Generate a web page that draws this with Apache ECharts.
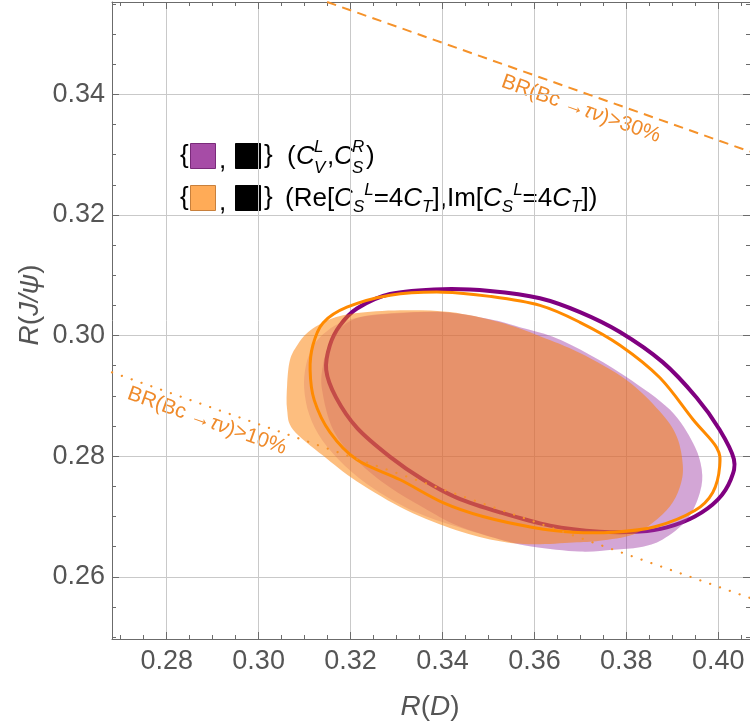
<!DOCTYPE html>
<html>
<head>
<meta charset="utf-8">
<script src="https://cdn.jsdelivr.net/npm/echarts@6/dist/echarts.min.js"></script>
<style>
  html, body { margin: 0; padding: 0; background: #fff; }
  #chart { width: 750px; height: 725px; }
</style>
</head>
<body>
<div id="chart"></div>
<script>
// axis ranges and ticks
var X_MIN = 0.2681, X_MAX = 0.4069;
var Y_MIN = 0.2497, Y_MAX = 0.3553;
var xTicks = [0.28, 0.30, 0.32, 0.34, 0.36, 0.38, 0.40];
var yTicks = [0.26, 0.28, 0.30, 0.32, 0.34];
var xMinorTicks = [0.270, 0.275, 0.285, 0.290, 0.295, 0.305, 0.310, 0.315, 0.325, 0.330, 0.335,
    0.345, 0.350, 0.355, 0.365, 0.370, 0.375, 0.385, 0.390, 0.395, 0.405];
var yMinorTicks = [0.250, 0.255, 0.265, 0.270, 0.275, 0.285, 0.290, 0.295, 0.305, 0.310, 0.315,
    0.325, 0.330, 0.335, 0.345, 0.350, 0.355];

// purple region (C_V^L, C_S^R), faint outer part
var purpleOuter = [
    [0.3099, 0.2913], [0.3103, 0.2951], [0.3118, 0.2981], [0.3140, 0.3002], [0.3177, 0.3021],
    [0.3232, 0.3032], [0.3308, 0.3037], [0.3401, 0.3039], [0.3503, 0.3027], [0.3568, 0.3014],
    [0.3640, 0.2998], [0.3721, 0.2968], [0.3801, 0.2931], [0.3895, 0.2877], [0.3945, 0.2822],
    [0.3964, 0.2778], [0.3960, 0.2740], [0.3932, 0.2695], [0.3879, 0.2662], [0.3829, 0.2649],
    [0.3771, 0.2645], [0.3699, 0.2642], [0.3597, 0.2650], [0.3525, 0.2662], [0.3432, 0.2683],
    [0.3340, 0.2708], [0.3253, 0.2745], [0.3188, 0.2784], [0.3138, 0.2827], [0.3110, 0.2869]
];
// purple region, dense inner part
var purpleInner = [
    [0.3138, 0.2910], [0.3140, 0.2951], [0.3155, 0.2988], [0.3173, 0.3009], [0.3214, 0.3029],
    [0.3286, 0.3037], [0.3401, 0.3039], [0.3503, 0.3027], [0.3568, 0.3014], [0.3640, 0.2998],
    [0.3721, 0.2968], [0.3801, 0.2931], [0.3895, 0.2877], [0.3945, 0.2822], [0.3964, 0.2778],
    [0.3960, 0.2740], [0.3932, 0.2695], [0.3879, 0.2662], [0.3829, 0.2649], [0.3771, 0.2645],
    [0.3699, 0.2642], [0.3597, 0.2650], [0.3525, 0.2662], [0.3432, 0.2685], [0.3358, 0.2715],
    [0.3286, 0.2748], [0.3214, 0.2793], [0.3162, 0.2844]
];
// orange region (Re, Im of C_S^L = 4 C_T)
var orangeFill = [
    [0.3062, 0.2918], [0.3068, 0.2959], [0.3084, 0.2984], [0.3108, 0.3006], [0.3155, 0.3027],
    [0.3210, 0.3037], [0.3308, 0.3042], [0.3416, 0.3039], [0.3525, 0.3022], [0.3612, 0.2999],
    [0.3699, 0.2971], [0.3801, 0.2926], [0.3873, 0.2874], [0.3910, 0.2832], [0.3923, 0.2783],
    [0.3916, 0.2748], [0.3895, 0.2717], [0.3858, 0.2690], [0.3814, 0.2670], [0.3742, 0.2660],
    [0.3684, 0.2657], [0.3597, 0.2654], [0.3525, 0.2659], [0.3432, 0.2677], [0.3323, 0.2710],
    [0.3214, 0.2758], [0.3140, 0.2801], [0.3075, 0.2844], [0.3062, 0.2877]
];
// ellipse rings
var purpleRing = [
    [0.3147, 0.2943], [0.3155, 0.2984], [0.3177, 0.3017], [0.3214, 0.3045], [0.3286, 0.3069],
    [0.3401, 0.3077], [0.3503, 0.3074], [0.3612, 0.3062], [0.3699, 0.3039], [0.3786, 0.3006],
    [0.3879, 0.2956], [0.3953, 0.2897], [0.4003, 0.2844], [0.4034, 0.2795], [0.4027, 0.2761],
    [0.3999, 0.2728], [0.3949, 0.2700], [0.3888, 0.2682], [0.3829, 0.2675], [0.3742, 0.2675],
    [0.3634, 0.2685], [0.3525, 0.2707], [0.3432, 0.2731], [0.3358, 0.2761], [0.3286, 0.2799],
    [0.3214, 0.2847], [0.3168, 0.2898]
];
var orangeRing = [
    [0.3112, 0.2943], [0.3118, 0.2984], [0.3140, 0.3021], [0.3192, 0.3047], [0.3286, 0.3067],
    [0.3401, 0.3072], [0.3503, 0.3065], [0.3612, 0.3050], [0.3699, 0.3022], [0.3786, 0.2984],
    [0.3873, 0.2930], [0.3945, 0.2861], [0.3996, 0.2815], [0.4003, 0.2783], [0.3988, 0.2740],
    [0.3949, 0.2710], [0.3862, 0.2683], [0.3771, 0.2674], [0.3684, 0.2674],
    [0.3597, 0.2682], [0.3488, 0.2700], [0.3401, 0.2723], [0.3308, 0.2761], [0.3214, 0.2794],
    [0.3155, 0.2840], [0.3121, 0.2893]
];
// BR(Bc -> tau nu) limits
var br30Line = [[0.3149, 0.3553], [0.4069, 0.3305]];
var br10Line = [[0.2681, 0.2939], [0.4069, 0.2565]];

var FONT = '"Liberation Sans", Arial, sans-serif';
var GRAY = '#555555';
var FRAME = '#6b6b6b';
var LINE_ORANGE = '#f5922a';
var LABEL_ORANGE = '#ef8a2a';

// closed smooth outline through the given pixel points (Catmull-Rom as cubic Beziers)
function closedCurve(p) {
    var n = p.length, d = 'M' + p[0][0] + ' ' + p[0][1];
    for (var i = 0; i < n; i++) {
        var p0 = p[(i - 1 + n) % n], p1 = p[i], p2 = p[(i + 1) % n], p3 = p[(i + 2) % n];
        var c1x = p1[0] + (p2[0] - p0[0]) / 6, c1y = p1[1] + (p2[1] - p0[1]) / 6;
        var c2x = p2[0] - (p3[0] - p1[0]) / 6, c2y = p2[1] - (p3[1] - p1[1]) / 6;
        d += 'C' + c1x + ' ' + c1y + ' ' + c2x + ' ' + c2y + ' ' + p2[0] + ' ' + p2[1];
    }
    return d + 'Z';
}

function regionSeries(name, pts, fill, stroke, width) {
    return {
        type: 'custom',
        name: name,
        coordinateSystem: 'cartesian2d',
        silent: true,
        data: pts,
        renderItem: function (params, api) {
            if (params.dataIndex !== 0) return null;
            var points = pts.map(function (p) { return api.coord(p); });
            return {
                type: 'path',
                shape: { pathData: closedCurve(points) },
                style: { fill: fill, stroke: stroke, lineWidth: width || 0 }
            };
        }
    };
}

function tickAxis(kind, pos, ticks, len, main) {
    return {
        type: 'value',
        position: pos,
        min: kind === 'x' ? X_MIN : Y_MIN,
        max: kind === 'x' ? X_MAX : Y_MAX,
        splitNumber: kind === 'x' ? 7 : 5,
        axisLine: { show: main, lineStyle: { color: FRAME, width: 1 } },
        axisTick: { show: true, inside: true, length: len, customValues: ticks,
            lineStyle: { color: FRAME, width: 1 } },
        axisLabel: { show: false },
        splitLine: { show: false }
    };
}

var xMain = tickAxis('x', 'bottom', xTicks, 7, true);
xMain.axisLabel = {
    show: true, customValues: xTicks, margin: 9, color: GRAY, fontSize: 27, fontFamily: FONT,
    formatter: function (v) { return v.toFixed(2); }
};
xMain.splitLine = { show: true, lineStyle: { color: '#c9c9c9', width: 1 } };

var yMain = tickAxis('y', 'left', yTicks, 7, true);
yMain.axisLabel = {
    show: true, customValues: yTicks, margin: 7, color: GRAY, fontSize: 27, fontFamily: FONT,
    formatter: function (v) { return v.toFixed(2); }
};
yMain.splitLine = { show: true, lineStyle: { color: '#c9c9c9', width: 1 } };

var chart = echarts.init(document.getElementById('chart'));

function t(text, x, y, size, italic) {
    return {
        type: 'text', x: x, y: y, silent: true,
        style: {
            text: text, fill: '#000', font: (italic ? 'italic ' : '') + size + 'px ' + FONT,
            align: 'left', verticalAlign: 'middle'
        }
    };
}

function richText(text, x, y, rich, rotation, align) {
    return {
        type: 'text', x: x, y: y, rotation: rotation || 0, silent: true,
        style: { text: text, rich: rich, align: align || 'center', verticalAlign: 'middle' }
    };
}

function richPair(size, color) {
    return {
        n: { fontSize: size, fontFamily: FONT, fill: color },
        i: { fontSize: size, fontFamily: FONT, fontStyle: 'italic', fill: color }
    };
}

var legendRich = {
    n: { fontSize: 26, fontFamily: FONT, fill: '#000', lineHeight: 34 },
    i: { fontSize: 26, fontFamily: FONT, fontStyle: 'italic', fill: '#000', lineHeight: 34 },
    b: { fontSize: 17, fontFamily: FONT, fontStyle: 'italic', fill: '#000', lineHeight: 17, verticalAlign: 'bottom' },
    p: { fontSize: 17, fontFamily: FONT, fontStyle: 'italic', fill: '#000', lineHeight: 17, verticalAlign: 'top' }
};

var graphics = [
    // legend row 1
    t('{', 180, 156, 26, false),
    { type: 'rect', shape: { x: 190.5, y: 143.5, width: 25, height: 25 },
      style: { fill: '#a64ca6', stroke: '#7a2a7a', lineWidth: 1 }, silent: true },
    t(',', 219, 161, 26, false),
    { type: 'rect', shape: { x: 235.5, y: 143.5, width: 25, height: 25 },
      style: { fill: '#000', stroke: '#000', lineWidth: 1 }, silent: true },
    t('}', 264, 156, 26, false),
    t('(', 287, 157, 26, false),
    t('C', 296, 157, 26, true),
    t('L', 314, 147, 17, true),
    t('V', 314, 168, 17, true),
    t(',', 327, 157, 26, false),
    t('C', 334, 157, 26, true),
    t('R', 352, 147, 17, true),
    t('S', 352, 168, 17, true),
    t(')', 366, 157, 26, false),
    // legend row 2
    t('{', 180, 198, 26, false),
    { type: 'rect', shape: { x: 190.5, y: 185.5, width: 25, height: 25 },
      style: { fill: '#ffab57', stroke: '#c8803c', lineWidth: 1 }, silent: true },
    t(',', 219, 203, 26, false),
    { type: 'rect', shape: { x: 235.5, y: 185.5, width: 25, height: 25 },
      style: { fill: '#000', stroke: '#000', lineWidth: 1 }, silent: true },
    t('}', 264, 198, 26, false),
    richText('{n|(Re[}{i|C}{b|S}{p|L}{n|=4}{i|C}{b|T}{n|],Im[}{i|C}{b|S}{p|L}{n|=4}{i|C}{b|T}{n|])}',
        285, 199, legendRich, 0, 'left'),
    // BR labels along the lines
    richText('{n|BR(Bc →}{i|τν}{n|)>30%}', 581, 109, richPair(21, LABEL_ORANGE), -0.34),
    richText('{n|BR(Bc →}{i|τν}{n|)>10%}', 207, 421, richPair(21, LABEL_ORANGE), -0.34),
    // axis titles
    richText('{i|R}{n|(}{i|D}{n|)}', 430, 707, richPair(28, GRAY), 0),
    richText('{i|R}{n|(}{i|J/ψ}{n|)}', 30, 305, richPair(28, GRAY), Math.PI / 2)
];

var option = {
    backgroundColor: '#ffffff',
    animation: false,
    grid: { left: 112, right: 0, top: 2, bottom: 86, containLabel: false },
    xAxis: [
        xMain,
        tickAxis('x', 'bottom', xMinorTicks, 4, false),
        tickAxis('x', 'top', xTicks, 7, true),
        tickAxis('x', 'top', xMinorTicks, 4, false)
    ],
    yAxis: [
        yMain,
        tickAxis('y', 'left', yMinorTicks, 4, false),
        tickAxis('y', 'right', yTicks, 7, true),
        tickAxis('y', 'right', yMinorTicks, 4, false)
    ],
    series: [
        regionSeries('purpleRing', purpleRing, 'none', '#800080', 4),
        regionSeries('purpleOuter', purpleOuter, 'rgba(160,60,165,0.23)'),
        regionSeries('purpleInner', purpleInner, 'rgba(160,60,165,0.29)'),
        regionSeries('orangeFill', orangeFill, 'rgba(251,125,0,0.5)'),
        regionSeries('orangeRing', orangeRing, 'none', '#ff8a00', 3),
        {
            type: 'line', name: 'BR30', data: br30Line, symbol: 'none', silent: true,
            lineStyle: { color: LINE_ORANGE, width: 2, type: [9.5, 6.5] }
        },
        {
            type: 'line', name: 'BR10', data: br10Line, symbol: 'none', silent: true,
            lineStyle: { color: LINE_ORANGE, width: 2.2, type: [0.1, 10.3], cap: 'round' }
        }
    ],
    graphic: graphics
};

chart.setOption(option);
</script>
</body>
</html>
